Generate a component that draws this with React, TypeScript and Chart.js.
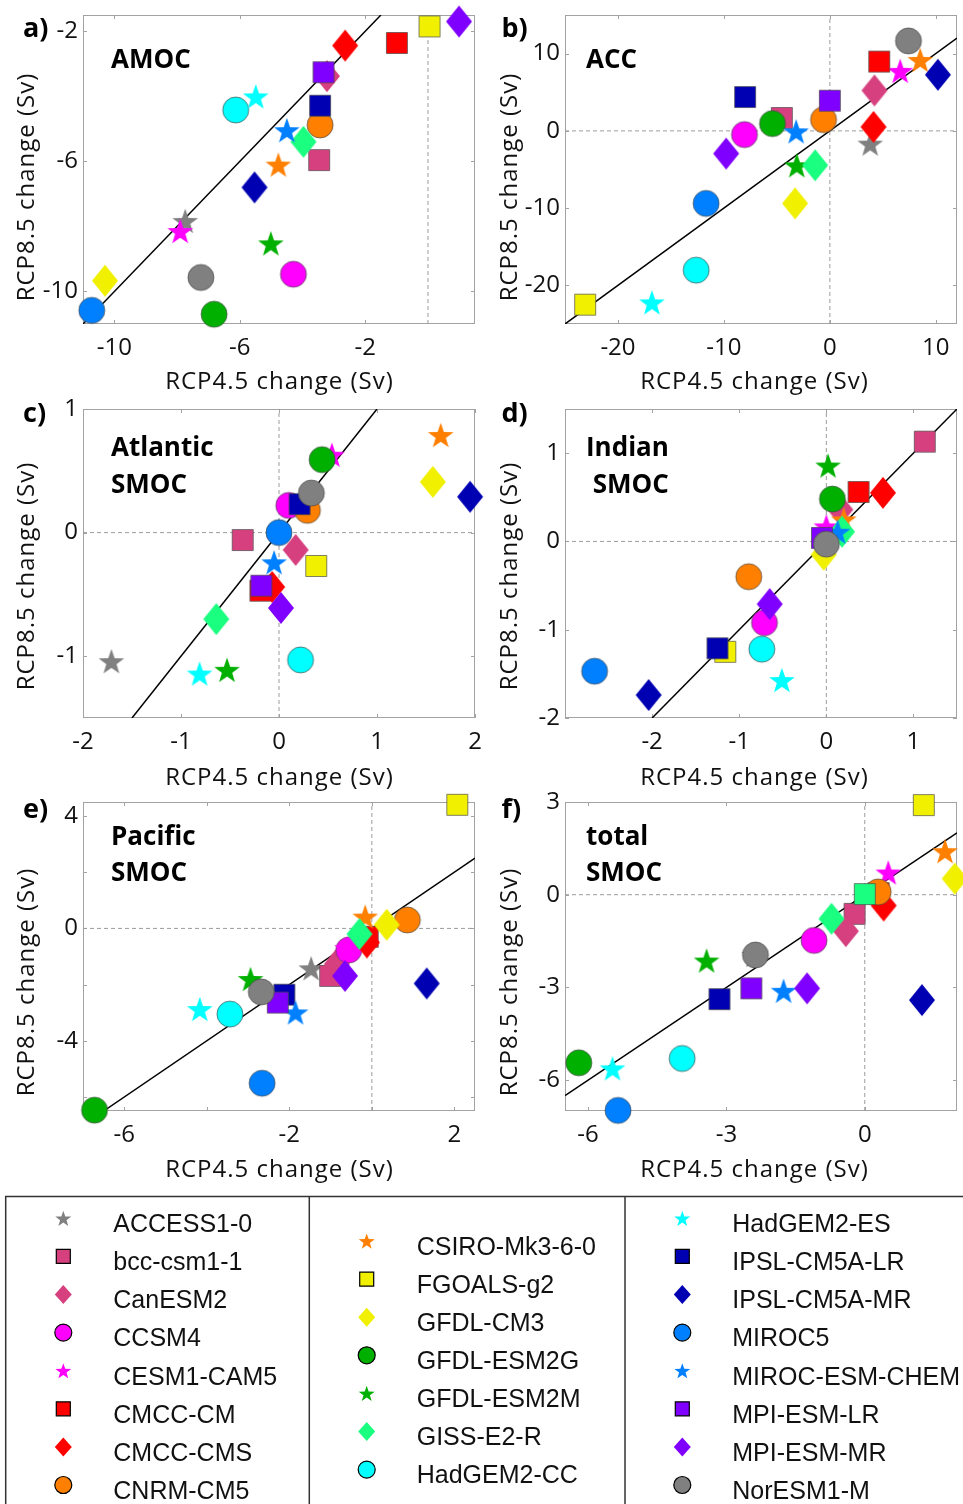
import React, { useEffect, useRef } from "react";
import { Chart, registerables } from "chart.js";

Chart.register(...registerables);

// ---------------- data ----------------
const MODELS = [
  "ACCESS1-0", "bcc-csm1-1", "CanESM2", "CCSM4", "CESM1-CAM5", "CMCC-CM", "CMCC-CMS", "CNRM-CM5",
  "CSIRO-Mk3-6-0", "FGOALS-g2", "GFDL-CM3", "GFDL-ESM2G", "GFDL-ESM2M", "GISS-E2-R", "HadGEM2-CC",
  "HadGEM2-ES", "IPSL-CM5A-LR", "IPSL-CM5A-MR", "MIROC5", "MIROC-ESM-CHEM", "MPI-ESM-LR", "MPI-ESM-MR", "NorESM1-M",
];
const MODEL_COLORS = [
  "#808080", "#d6407f", "#d6407f", "#ff00ff", "#ff00ff", "#ff0000", "#ff0000", "#ff7f00",
  "#ff7f00", "#f0f000", "#f0f000", "#00b000", "#00b000", "#1aff80", "#00ffff",
  "#00ffff", "#0000b3", "#0000b3", "#0080ff", "#0080ff", "#8000ff", "#8000ff", "#808080",
];
const MODEL_SHAPES = [
  "star", "square", "diamond", "circle", "star", "square", "diamond", "circle",
  "star", "square", "diamond", "circle", "star", "diamond", "circle",
  "star", "square", "diamond", "circle", "star", "square", "diamond", "circle",
];

// a) AMOC
const AMOC_RCP45 = [-7.74, -3.47, -3.22, -4.29, -7.9, -0.99, -2.64, -3.44, -4.77, 0.05, -10.3, -6.82, -5.01, -3.97, -6.13, -5.49, -3.44, -5.53, -10.72, -4.5, -3.33, 0.99, -7.24];
const AMOC_RCP85 = [-7.83, -5.96, -3.38, -9.47, -8.14, -2.36, -2.44, -4.88, -6.1, -1.85, -9.67, -10.7, -8.52, -5.4, -4.42, -4.0, -4.29, -6.8, -10.58, -5.04, -3.26, -1.7, -9.57];
const AMOC_X_RANGE = [-11, 1.5];
const AMOC_Y_RANGE = [-11, -1.5];
const AMOC_X_TICKS = [-10, -6, -2];
const AMOC_Y_TICKS = [-10, -6, -2];

// b) ACC
const ACC_RCP45 = [3.81, -4.53, 4.21, -8.06, 6.64, 4.66, 4.12, -0.6, 8.53, -23.1, -3.28, -5.42, -3.12, -1.39, -12.62, -16.8, -8.0, 10.2, -11.68, -3.18, 0.0, -9.79, 7.42];
const ACC_RCP85 = [-1.65, 1.67, 5.23, -0.48, 7.77, 8.97, 0.51, 1.45, 9.19, -22.5, -9.39, 0.94, -4.45, -4.45, -18.03, -22.2, 4.38, 7.26, -9.39, -0.06, 3.9, -2.94, 11.65];
const ACC_X_RANGE = [-25, 12];
const ACC_Y_RANGE = [-25, 15];
const ACC_X_TICKS = [-20, -10, 0, 10];
const ACC_Y_TICKS = [-20, -10, 0, 10];

// c) Atlantic SMOC
const ATL_RCP45 = [-1.71, -0.37, 0.17, 0.1, 0.54, -0.19, -0.07, 0.29, 1.65, 0.38, 1.57, 0.44, -0.53, -0.64, 0.22, -0.81, 0.21, 1.95, 0.0, -0.05, -0.18, 0.02, 0.33];
const ATL_RCP85 = [-1.04, -0.06, -0.14, 0.22, 0.63, -0.47, -0.44, 0.18, 0.79, -0.27, 0.41, 0.59, -1.11, -0.7, -1.03, -1.14, 0.23, 0.29, 0.0, -0.24, -0.43, -0.61, 0.32];
const ATL_X_RANGE = [-2, 2];
const ATL_Y_RANGE = [-1.5, 1];
const ATL_X_TICKS = [-2, -1, 0, 1, 2];
const ATL_Y_TICKS = [-1, 0, 1];

// d) Indian SMOC
const IND_RCP45 = [0.02, 1.13, 0.16, -0.71, 0.0, 0.37, 0.65, -0.89, 0.2, -1.16, -0.03, 0.07, 0.02, 0.18, -0.74, -0.51, -1.25, -2.04, -2.66, 0.13, -0.05, -0.65, 0.0];
const IND_RCP85 = [0.0, 1.13, 0.36, -0.92, 0.17, 0.56, 0.55, -0.4, 0.25, -1.25, -0.15, 0.48, 0.86, 0.11, -1.22, -1.57, -1.21, -1.74, -1.47, 0.11, 0.04, -0.71, -0.03];
const IND_X_RANGE = [-3, 1.5];
const IND_Y_RANGE = [-2, 1.5];
const IND_X_TICKS = [-2, -1, 0, 1];
const IND_Y_TICKS = [-2, -1, 0, 1];

// e) Pacific SMOC
const PAC_RCP45 = [-1.47, -1.01, -0.85, -0.56, -0.6, -0.1, -0.12, 0.86, -0.16, 2.07, 0.36, -6.72, -2.94, -0.3, -3.44, -4.17, -2.12, 1.33, -2.66, -1.85, -2.28, -0.65, -2.68];
const PAC_RCP85 = [-1.42, -1.69, -1.27, -0.77, -0.7, -0.3, -0.5, 0.3, 0.42, 4.4, 0.13, -6.47, -1.8, -0.2, -3.05, -2.87, -2.36, -1.96, -5.51, -2.99, -2.64, -1.69, -2.26];
const PAC_X_RANGE = [-7, 2.5];
const PAC_Y_RANGE = [-6.5, 4.5];
const PAC_X_TICK_MARKS = [-6, -4, -2, 0, 2];
const PAC_X_TICK_LABELS = [-6, -2, 2];
const PAC_Y_TICK_MARKS = [-6, -4, -2, 0, 2, 4];
const PAC_Y_TICK_LABELS = [-4, 0, 4];

// f) total SMOC
const TOT_RCP45 = [-2.4, -0.22, -0.41, -1.1, 0.51, 0.3, 0.41, 0.29, 1.74, 1.28, 1.95, -6.2, -3.43, -0.72, -3.96, -5.47, -3.15, 1.24, -5.35, -1.76, -2.46, -1.25, -2.37];
const TOT_RCP85 = [-1.95, -0.62, -1.18, -1.48, 0.72, 0.05, -0.35, 0.09, 1.41, 2.9, 0.52, -5.44, -2.13, -0.78, -5.3, -5.62, -3.38, -3.41, -6.98, -3.11, -3.03, -3.03, -1.95];
const TOT_UNLABELLED_SQUARE_X = [0.0];
const TOT_UNLABELLED_SQUARE_Y = [0.02];
const TOT_X_RANGE = [-6.5, 2];
const TOT_Y_RANGE = [-7, 3];
const TOT_X_TICKS = [-6, -3, 0];
const TOT_Y_TICKS = [-6, -3, 0, 3];

const PANEL_LETTERS = ["a)", "b)", "c)", "d)", "e)", "f)"];
const PANEL_NAMES = ["AMOC", "ACC", "Atlantic\nSMOC", "Indian\n SMOC", "Pacific\nSMOC", "total\nSMOC"];
const X_TITLE = "RCP4.5 change (Sv)";
const Y_TITLE = "RCP8.5 change (Sv)";

// ---------------- layout & style ----------------
type PanelSpec = {
  x: number[]; y: number[]; xr: number[]; yr: number[];
  xMarks: number[]; xLabels: number[]; yMarks: number[]; yLabels: number[];
  extra?: { x: number[]; y: number[]; color: string; shape: string };
};

const PANELS: PanelSpec[] = [
  { x: AMOC_RCP45, y: AMOC_RCP85, xr: AMOC_X_RANGE, yr: AMOC_Y_RANGE, xMarks: AMOC_X_TICKS, xLabels: AMOC_X_TICKS, yMarks: AMOC_Y_TICKS, yLabels: AMOC_Y_TICKS },
  { x: ACC_RCP45, y: ACC_RCP85, xr: ACC_X_RANGE, yr: ACC_Y_RANGE, xMarks: ACC_X_TICKS, xLabels: ACC_X_TICKS, yMarks: ACC_Y_TICKS, yLabels: ACC_Y_TICKS },
  { x: ATL_RCP45, y: ATL_RCP85, xr: ATL_X_RANGE, yr: ATL_Y_RANGE, xMarks: ATL_X_TICKS, xLabels: ATL_X_TICKS, yMarks: ATL_Y_TICKS, yLabels: ATL_Y_TICKS },
  { x: IND_RCP45, y: IND_RCP85, xr: IND_X_RANGE, yr: IND_Y_RANGE, xMarks: IND_X_TICKS, xLabels: IND_X_TICKS, yMarks: IND_Y_TICKS, yLabels: IND_Y_TICKS },
  { x: PAC_RCP45, y: PAC_RCP85, xr: PAC_X_RANGE, yr: PAC_Y_RANGE, xMarks: PAC_X_TICK_MARKS, xLabels: PAC_X_TICK_LABELS, yMarks: PAC_Y_TICK_MARKS, yLabels: PAC_Y_TICK_LABELS },
  { x: TOT_RCP45, y: TOT_RCP85, xr: TOT_X_RANGE, yr: TOT_Y_RANGE, xMarks: TOT_X_TICKS, xLabels: TOT_X_TICKS, yMarks: TOT_Y_TICKS, yLabels: TOT_Y_TICKS,
    extra: { x: TOT_UNLABELLED_SQUARE_X, y: TOT_UNLABELLED_SQUARE_Y, color: "#1aff80", shape: "square" } },
];

const PLOT_W = 392;
const PLOT_H = 309;
const PANEL_LEFT = [83, 565];
const PANEL_TOP = [15, 409, 802];
const PAD = { left: 70, top: 16, right: 26, bottom: 52 };
const CW = PAD.left + PLOT_W + PAD.right;
const CH = PAD.top + PLOT_H + PAD.bottom;

const FONT = "'Open Sans', sans-serif";
const LEGEND_FONT = "'Liberation Sans', Arial, sans-serif";

const PLOT_MARK = { circleR: 13, squareH: 10.5, diamondW: 13, diamondH: 16, starR: 13.5 };
const LEGEND_MARK = { circleR: 8.5, squareH: 7, diamondW: 8.5, diamondH: 9.5, starR: 8.4 };

function shapePath(shape: string, cx: number, cy: number, s: typeof PLOT_MARK): string {
  if (shape === "circle") {
    const r = s.circleR;
    return `M${cx - r},${cy}A${r},${r} 0 1 0 ${cx + r},${cy}A${r},${r} 0 1 0 ${cx - r},${cy}Z`;
  }
  if (shape === "square") {
    const h = s.squareH;
    return `M${cx - h},${cy - h}H${cx + h}V${cy + h}H${cx - h}Z`;
  }
  if (shape === "diamond") {
    const w = s.diamondW, h = s.diamondH;
    return `M${cx},${cy - h}L${cx + w},${cy}L${cx},${cy + h}L${cx - w},${cy}Z`;
  }
  const R = s.starR, r = R * 0.4;
  let d = "";
  for (let k = 0; k < 10; k++) {
    const rad = k % 2 === 0 ? R : r;
    const a = -Math.PI / 2 + (k * Math.PI) / 5;
    d += (k === 0 ? "M" : "L") + (cx + rad * Math.cos(a)).toFixed(2) + "," + (cy + rad * Math.sin(a) + R * 0.1).toFixed(2);
  }
  return d + "Z";
}

const markerCache = new Map<string, HTMLCanvasElement>();
function markerImg(shape: string, color: string): HTMLCanvasElement {
  const key = shape + color;
  const hit = markerCache.get(key);
  if (hit) return hit;
  const c = document.createElement("canvas");
  c.width = 40;
  c.height = 40;
  const g = c.getContext("2d")!;
  const p = new Path2D(shapePath(shape, 20, 20, PLOT_MARK));
  g.fillStyle = color;
  g.fill(p);
  if (shape === "circle" || shape === "square") {
    g.strokeStyle = "rgba(70,70,70,0.85)";
    g.lineWidth = 0.8;
    g.stroke(p);
  }
  markerCache.set(key, c);
  return c;
}

const framePlugin = {
  id: "matlabFrame",
  beforeDatasetsDraw(chart: any) {
    const { ctx, chartArea: a, scales } = chart;
    ctx.save();
    ctx.strokeStyle = "#a3a3a3";
    ctx.lineWidth = 1;
    ctx.strokeRect(a.left + 0.5, a.top + 0.5, a.right - a.left - 1, a.bottom - a.top - 1);
    ctx.beginPath();
    for (const t of scales.x.ticks) {
      const px = Math.round(scales.x.getPixelForValue(t.value)) + 0.5;
      ctx.moveTo(px, a.top); ctx.lineTo(px, a.top + 4);
      ctx.moveTo(px, a.bottom); ctx.lineTo(px, a.bottom - 4);
    }
    for (const t of scales.y.ticks) {
      const py = Math.round(scales.y.getPixelForValue(t.value)) + 0.5;
      ctx.moveTo(a.left, py); ctx.lineTo(a.left + 4, py);
      ctx.moveTo(a.right, py); ctx.lineTo(a.right - 4, py);
    }
    ctx.stroke();
    ctx.restore();
  },
};

function buildDatasets(p: PanelSpec) {
  const ds: any[] = [];
  const zero = (data: any[]) => ({
    data, showLine: true, borderColor: "#9c9c9c", borderWidth: 1, borderDash: [4, 3],
    pointRadius: 0, order: 100,
  });
  if (p.xr[0] < 0 && p.xr[1] > 0) ds.push(zero([{ x: 0, y: p.yr[0] }, { x: 0, y: p.yr[1] }]));
  if (p.yr[0] < 0 && p.yr[1] > 0) ds.push(zero([{ x: p.xr[0], y: 0 }, { x: p.xr[1], y: 0 }]));
  const lo = Math.max(p.xr[0], p.yr[0]);
  const hi = Math.min(p.xr[1], p.yr[1]);
  ds.push({
    data: [{ x: lo, y: lo }, { x: hi, y: hi }], showLine: true, borderColor: "#000",
    borderWidth: 1.5, pointRadius: 0, order: 99,
  });
  p.x.forEach((xv, i) => {
    ds.push({
      label: MODELS[i],
      data: [{ x: xv, y: p.y[i] }],
      pointStyle: markerImg(MODEL_SHAPES[i], MODEL_COLORS[i]),
      pointRadius: 14,
      pointHoverRadius: 14,
      clip: false,
      order: 50 - i,
    });
  });
  if (p.extra) {
    const e = p.extra;
    ds.push({
      data: e.x.map((xv, k) => ({ x: xv, y: e.y[k] })),
      pointStyle: markerImg(e.shape, e.color),
      pointRadius: 14,
      clip: false,
      order: 0,
    });
  }
  return ds;
}

function makeConfig(p: PanelSpec): any {
  const tickFont = { family: FONT, size: 24 };
  return {
    type: "scatter",
    data: { datasets: buildDatasets(p) },
    options: {
      animation: false,
      responsive: false,
      devicePixelRatio: 1,
      events: [],
      layout: { padding: { left: 0, top: PAD.top, right: PAD.right, bottom: 0 } },
      plugins: { legend: { display: false }, tooltip: { enabled: false } },
      scales: {
        x: {
          type: "linear", position: "bottom", min: p.xr[0], max: p.xr[1],
          grid: { display: false, drawTicks: false }, border: { display: false },
          afterBuildTicks: (s: any) => { s.ticks = p.xMarks.map((v) => ({ value: v })); },
          afterFit: (s: any) => { s.height = PAD.bottom; s.paddingLeft = 0; s.paddingRight = 0; },
          ticks: {
            autoSkip: false, maxRotation: 0, minRotation: 0, padding: 10, color: "#111", font: tickFont,
            callback: (v: number) => (p.xLabels.includes(v) ? String(v) : ""),
          },
        },
        y: {
          type: "linear", position: "left", min: p.yr[0], max: p.yr[1],
          grid: { display: false, drawTicks: false }, border: { display: false },
          afterBuildTicks: (s: any) => { s.ticks = p.yMarks.map((v) => ({ value: v })); },
          afterFit: (s: any) => { s.width = PAD.left; s.paddingTop = 0; s.paddingBottom = 0; },
          ticks: {
            autoSkip: false, padding: 5, color: "#111", font: tickFont,
            callback: (v: number) => (p.yLabels.includes(v) ? String(v) : ""),
          },
        },
      },
    },
    plugins: [framePlugin],
  };
}

function PanelChart({ spec, left, top }: { spec: PanelSpec; left: number; top: number }) {
  const ref = useRef<HTMLCanvasElement>(null);
  useEffect(() => {
    const chart = new Chart(ref.current as HTMLCanvasElement, makeConfig(spec));
    return () => chart.destroy();
  }, [spec]);
  return (
    <canvas
      ref={ref}
      width={CW}
      height={CH}
      style={{ position: "absolute", left: left - PAD.left, top: top - PAD.top, width: CW, height: CH }}
    />
  );
}

// text placement (page px)
const X_TITLE_CX = [279.5, 754.5];
const X_TITLE_CY = [379.5, 775.5, 1168];
const Y_TITLE_CX = [25, 508];
const Y_TITLE_CY = [187, 575.5, 982];
const LETTER_X = [23, 501.5];
const LETTER_BASE = [36.5, 422, 818.3];
const NAME_X = [111, 586];
const NAME_BASE = [68.3, 456.7, 845];

const LEG_MARK_X = [63.3, 366.7, 682.3];
const LEG_TEXT_X = [113.3, 416.7, 732.3];
const LEG_ROW0 = [1223.3, 1246, 1223.3];
const LEG_ROW_STEP = 38.1;

function legendPos(i: number) {
  const col = i < 8 ? 0 : i < 15 ? 1 : 2;
  const row = col === 0 ? i : col === 1 ? i - 8 : i - 15;
  const ty = LEG_ROW0[col] + LEG_ROW_STEP * row;
  return { col, mx: LEG_MARK_X[col], my: ty - 5, tx: LEG_TEXT_X[col], ty };
}

export default function App() {
  return (
    <div style={{ position: "absolute", left: 0, top: 0, width: 963, height: 1504, overflow: "hidden", background: "#fff" }}>
      {PANELS.map((p, i) => (
        <PanelChart key={i} spec={p} left={PANEL_LEFT[i % 2]} top={PANEL_TOP[Math.floor(i / 2)]} />
      ))}
      {PANELS.map((_, i) => {
        const c = i % 2, r = Math.floor(i / 2);
        return (
          <React.Fragment key={"t" + i}>
            <div style={{ position: "absolute", left: X_TITLE_CX[c], top: X_TITLE_CY[r], transform: "translate(-50%,-50%)",
              fontFamily: FONT, fontSize: 24, lineHeight: "24px", letterSpacing: "1px", whiteSpace: "nowrap", color: "#111" }}>
              {X_TITLE}
            </div>
            <div style={{ position: "absolute", left: Y_TITLE_CX[c], top: Y_TITLE_CY[r], transform: "translate(-50%,-50%) rotate(-90deg)",
              fontFamily: FONT, fontSize: 24, lineHeight: "24px", letterSpacing: "1px", whiteSpace: "nowrap", color: "#111" }}>
              {Y_TITLE}
            </div>
            <div style={{ position: "absolute", left: LETTER_X[c], top: LETTER_BASE[r] - 24, fontFamily: FONT, fontWeight: 700,
              fontSize: 27, lineHeight: "27px", whiteSpace: "nowrap", color: "#000" }}>
              {PANEL_LETTERS[i]}
            </div>
            <div style={{ position: "absolute", left: NAME_X[c], top: NAME_BASE[r] - 28.3, fontFamily: FONT, fontWeight: 700,
              fontSize: 26, lineHeight: "36.5px", whiteSpace: "pre", color: "#000" }}>
              {PANEL_NAMES[i]}
            </div>
          </React.Fragment>
        );
      })}
      <svg width={963} height={1504} style={{ position: "absolute", left: 0, top: 0, pointerEvents: "none" }}>
        <path d="M5.7,1504 V1196.5 H963" stroke="#333" strokeWidth={1.5} fill="none" />
        <line x1={309.3} y1={1196.5} x2={309.3} y2={1504} stroke="#333" strokeWidth={1.5} />
        <line x1={625} y1={1196.5} x2={625} y2={1504} stroke="#333" strokeWidth={1.5} />
        {MODELS.map((m, i) => {
          const { mx, my } = legendPos(i);
          const edged = MODEL_SHAPES[i] === "circle" || MODEL_SHAPES[i] === "square";
          return (
            <path key={m} d={shapePath(MODEL_SHAPES[i], mx, my, LEGEND_MARK)} fill={MODEL_COLORS[i]}
              stroke={edged ? "#000" : "none"} strokeWidth={1.2} />
          );
        })}
      </svg>
      {MODELS.map((m, i) => {
        const { tx, ty } = legendPos(i);
        return (
          <div key={"l" + m} style={{ position: "absolute", left: tx, top: ty - 12.2, fontFamily: LEGEND_FONT, fontSize: 25,
            lineHeight: "25px", whiteSpace: "nowrap", color: "#111" }}>
            {m}
          </div>
        );
      })}
    </div>
  );
}
